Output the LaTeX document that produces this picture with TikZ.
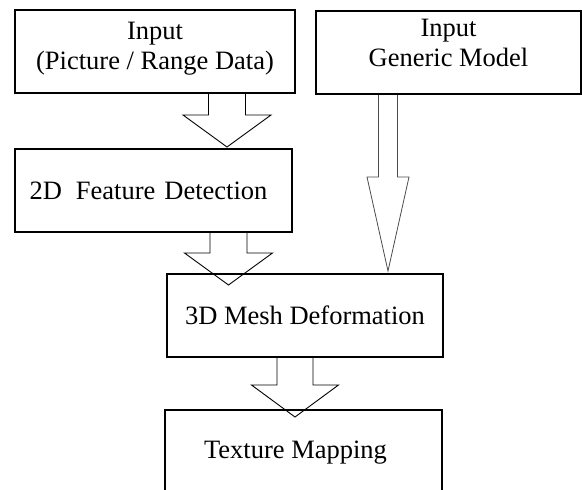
\documentclass[tikz,border=0pt]{standalone}
\usepackage{fontspec}
\setmainfont{Liberation Serif}
\usetikzlibrary{calc}

\tikzset{
  stage/.style={draw, line width=1.8pt, inner sep=0pt, minimum height=83pt,
    align=center, font=\fontsize{26.5}{30}\selectfont},
  fat arrow/.style n args={3}{line width=0.9pt, line join=miter,
    to path={let \p1=(\tikztostart), \p2=(\tikztotarget) in
      (\x2-#1,\y1) -- (\x2-#1,\y2+#3) -- (\x2-#2,\y2+#3) -- (\x2,\y2)
      -- (\x2+#2,\y2+#3) -- (\x2+#1,\y2+#3) -- (\x2+#1,\y1)}}
}

\begin{document}
\begin{tikzpicture}[x=1pt, y=-1pt]
  \useasboundingbox (0,0) rectangle (582,490);
  \clip (0,0) rectangle (582,490);
  % stages
  \node[stage, minimum width=280pt, text depth=12pt] (in1) at (155,51.5) {Input\\(Picture / Range Data)};
  \node[stage, minimum width=265pt, text depth=20pt] (in2) at (448.5,52.5) {Input\\Generic Model};
  \node[stage, minimum width=277pt] (feat) at (153.5,190.5) {2D\hspace{14pt}Feature\hspace{9pt}Detection\hspace{10pt}};
  \node[stage, minimum width=276pt] (mesh) at (305,315.5) {3D Mesh Deformation};
  \node[stage, minimum width=277pt, minimum height=86pt] (tex) at (303.5,453) {Texture Mapping\hspace{16pt}};
  % tips of the block arrows
  \coordinate (t1) at (227,147);
  \coordinate (t2) at (228.5,285);
  \coordinate (t3) at (295,417);
  \coordinate (t4) at (388,271);
  % block arrows
  \draw[fat arrow={18.5pt}{44pt}{32pt}] (in1.south -| t1) to (t1);
  \draw[fat arrow={18.5pt}{44pt}{32pt}] (feat.south -| t2) to (t2);
  \draw[fat arrow={18pt}{43.5pt}{32pt}] (mesh.south -| t3) to (t3);
  \draw[fat arrow={9.5pt}{21pt}{94pt}, draw=black!70, line width=0.8pt] (in2.south -| t4) to (t4);
\end{tikzpicture}
\end{document}
